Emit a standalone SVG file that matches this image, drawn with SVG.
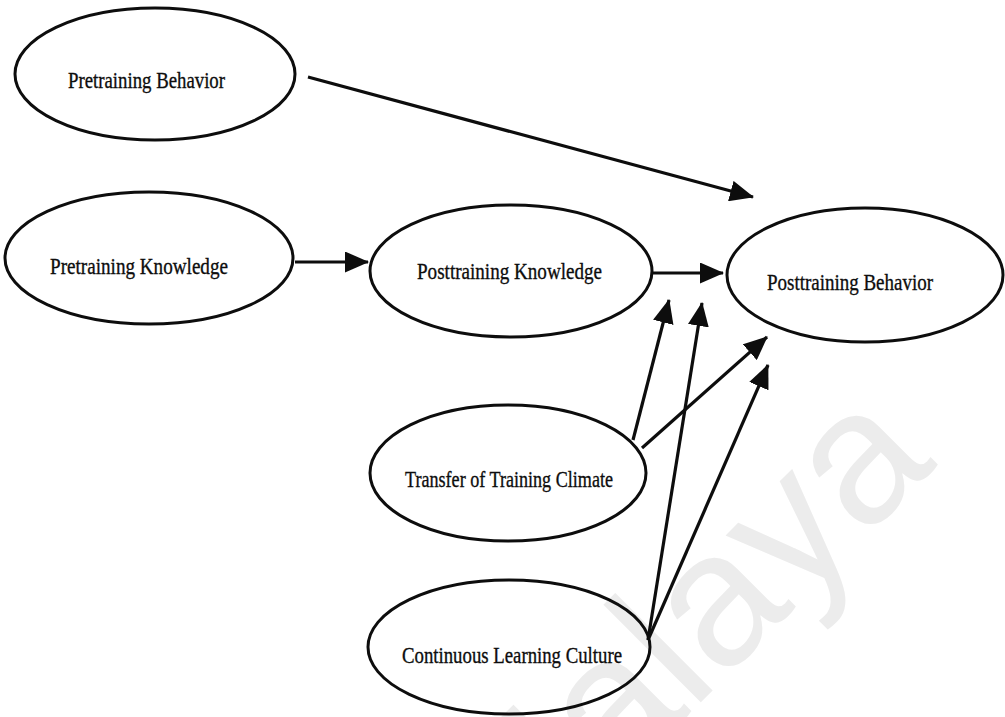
<svg xmlns="http://www.w3.org/2000/svg" width="1005" height="717" viewBox="0 0 1005 717">
<style>
.node ellipse{fill:none;stroke:#0d0d0d;stroke-width:3}
.node text{font-family:"Liberation Serif","Times New Roman",serif;font-size:24px;fill:#0d0d0d;stroke:#0d0d0d;stroke-width:0.35}
.conn line{stroke:#0d0d0d;stroke-width:3.2}
.wm{font-family:"Liberation Sans",Arial,sans-serif;font-size:190px;fill:#ececec}
</style>
<defs>
<marker id="ah" markerUnits="userSpaceOnUse" markerWidth="24" markerHeight="21" refX="23" refY="10.5" orient="auto" viewBox="0 0 24 21">
<path d="M0,0 L24,10.5 L0,21 z" fill="#0d0d0d"/>
</marker>
</defs>
<rect width="1005" height="717" fill="#fff"/>
<text class="wm" x="505" y="898" transform="rotate(-45 505 898)">Malaya</text>
<g id="pretraining-behavior" class="node">
<ellipse cx="155" cy="74" rx="140" ry="66"/>
<text x="68" y="88" textLength="157" lengthAdjust="spacingAndGlyphs">Pretraining Behavior</text>
</g>
<g id="pretraining-knowledge" class="node">
<ellipse cx="149" cy="258" rx="144" ry="66"/>
<text x="50" y="274" textLength="178" lengthAdjust="spacingAndGlyphs">Pretraining Knowledge</text>
</g>
<g id="posttraining-knowledge" class="node">
<ellipse cx="511" cy="271" rx="141" ry="66"/>
<text x="417" y="279" textLength="185" lengthAdjust="spacingAndGlyphs">Posttraining Knowledge</text>
</g>
<g id="posttraining-behavior" class="node">
<ellipse cx="865" cy="275" rx="138" ry="67"/>
<text x="767" y="290" textLength="166" lengthAdjust="spacingAndGlyphs">Posttraining Behavior</text>
</g>
<g id="transfer-climate" class="node">
<ellipse cx="508" cy="473" rx="138" ry="68"/>
<text x="405" y="487" textLength="208" lengthAdjust="spacingAndGlyphs">Transfer of Training Climate</text>
</g>
<g id="continuous-learning" class="node">
<ellipse cx="509" cy="647" rx="141" ry="67"/>
<text x="402" y="663" textLength="220" lengthAdjust="spacingAndGlyphs">Continuous Learning Culture</text>
</g>
<g id="connectors" class="conn">
<line x1="308" y1="77" x2="753" y2="197" marker-end="url(#ah)"/>
<line x1="295" y1="262" x2="368" y2="262" marker-end="url(#ah)"/>
<line x1="653" y1="273" x2="723" y2="273" marker-end="url(#ah)"/>
<line x1="633" y1="440" x2="669" y2="300" marker-end="url(#ah)"/>
<line x1="642" y1="448" x2="767" y2="337" marker-end="url(#ah)"/>
<line x1="648" y1="640" x2="702" y2="303" marker-end="url(#ah)"/>
<line x1="648" y1="640" x2="768" y2="365" marker-end="url(#ah)"/>
</g>
</svg>
